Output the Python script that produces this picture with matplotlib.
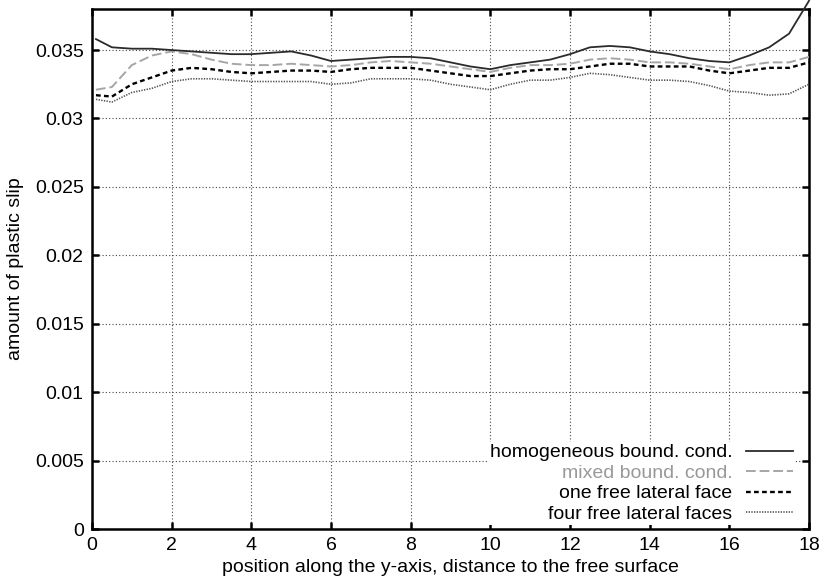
import matplotlib
matplotlib.use("Agg")
import matplotlib.pyplot as plt
from matplotlib.ticker import FixedLocator, FuncFormatter

plt.rcParams['font.family'] = ['Liberation Sans', 'DejaVu Sans']

# position along the y-axis (distance to the free surface)
position = [0.1, 0.5, 1.0, 1.5, 2.0, 2.5, 3.0, 3.5, 4.0, 4.5, 5.0, 5.5, 6.0,
            6.5, 7.0, 7.5, 8.0, 8.5, 9.0, 9.5, 10.0, 10.5, 11.0, 11.5, 12.0,
            12.5, 13.0, 13.5, 14.0, 14.5, 15.0, 15.5, 16.0, 16.5, 17.0, 17.5, 18.0]

slip_homogeneous = [0.0358, 0.0352, 0.0351, 0.0351, 0.0350, 0.0349, 0.0348, 0.0347,
                    0.0347, 0.0348, 0.0349, 0.0346, 0.0342, 0.0343, 0.0344, 0.0345,
                    0.0345, 0.0344, 0.0341, 0.0338, 0.0336, 0.0339, 0.0341, 0.0343,
                    0.0347, 0.0352, 0.0353, 0.0352, 0.0349, 0.0347, 0.0344, 0.0342,
                    0.0341, 0.0346, 0.0352, 0.0362, 0.0386]

slip_mixed = [0.0321, 0.0323, 0.0339, 0.0346, 0.0349, 0.0347, 0.0343, 0.0340,
              0.0339, 0.0339, 0.0340, 0.0339, 0.0338, 0.0339, 0.0341, 0.0342,
              0.0341, 0.0340, 0.0338, 0.0336, 0.0334, 0.0337, 0.0339, 0.0339,
              0.0340, 0.0343, 0.0344, 0.0343, 0.0341, 0.0341, 0.0340, 0.0338,
              0.0336, 0.0339, 0.0341, 0.0341, 0.0345]

slip_one_free = [0.0317, 0.0316, 0.0325, 0.0330, 0.0335, 0.0337, 0.0336, 0.0334,
                 0.0333, 0.0334, 0.0335, 0.0335, 0.0334, 0.0336, 0.0337, 0.0337,
                 0.0337, 0.0335, 0.0333, 0.0331, 0.0331, 0.0333, 0.0335, 0.0336,
                 0.0336, 0.0338, 0.0340, 0.0340, 0.0338, 0.0338, 0.0338, 0.0335,
                 0.0333, 0.0335, 0.0337, 0.0337, 0.0341]

slip_four_free = [0.0314, 0.0312, 0.0319, 0.0322, 0.0327, 0.0329, 0.0329, 0.0328,
                  0.0327, 0.0327, 0.0327, 0.0327, 0.0325, 0.0326, 0.0329, 0.0329,
                  0.0329, 0.0328, 0.0325, 0.0323, 0.0321, 0.0325, 0.0328, 0.0328,
                  0.0330, 0.0333, 0.0332, 0.0330, 0.0328, 0.0328, 0.0327, 0.0324,
                  0.0320, 0.0319, 0.0317, 0.0318, 0.0325]

x_ticks = [0, 2, 4, 6, 8, 10, 12, 14, 16, 18]
y_ticks = [0, 0.005, 0.01, 0.015, 0.02, 0.025, 0.03, 0.035]

FS = 14

fig = plt.figure(figsize=(8.26, 5.85), dpi=100)
ax = fig.add_axes([92 / 826, 56 / 585, (809 - 92) / 826, (529 - 9) / 585])

ax.plot(position, slip_homogeneous, color='#2b2b2b', lw=1.3,
        label='homogeneous bound. cond.', clip_on=False, zorder=5)
ax.plot(position, slip_mixed, color='#a6a6a6', lw=1.4, dashes=(5, 2),
        label='mixed bound. cond.', zorder=4)
ax.plot(position, slip_one_free, color='#000000', lw=1.7, dashes=(2, 1.4),
        label='one free lateral face', zorder=4)
ax.plot(position, slip_four_free, color='#555555', lw=1.2, dashes=(0.8, 0.8),
        label='four free lateral faces', zorder=4)

ax.set_xlim(0, 18)
ax.set_ylim(0, 0.038)
ax.xaxis.set_major_locator(FixedLocator(x_ticks))
ax.yaxis.set_major_locator(FixedLocator(y_ticks))
ax.yaxis.set_major_formatter(FuncFormatter(lambda v, p: '%g' % v))

ax.grid(True, color='#444444', lw=0.8, linestyle=(0, (1, 2)))
ax.set_axisbelow(True)

for sp in ax.spines.values():
    sp.set_linewidth(1.8)
ax.tick_params(direction='in', length=5, width=1.8, top=True, right=True,
               labelsize=FS, pad=6, colors='black')

ax.set_xlabel('position along the y-axis, distance to the free surface',
              fontsize=FS, labelpad=3)
ax.set_ylabel('amount of plastic slip', fontsize=FS, labelpad=8)

leg = ax.legend(loc='lower right', bbox_to_anchor=(0.98, 0.008), frameon=True,
                facecolor='white', edgecolor='none', framealpha=1.0, fancybox=False,
                markerfirst=False, fontsize=FS, handlelength=2.4,
                handletextpad=0.7, labelspacing=0.15, borderpad=0.1,
                borderaxespad=0.0)
for txt, col in zip(leg.get_texts(), ['black', '#999999', 'black', 'black']):
    txt.set_color(col)

fig.savefig('out.png', dpi=100)
